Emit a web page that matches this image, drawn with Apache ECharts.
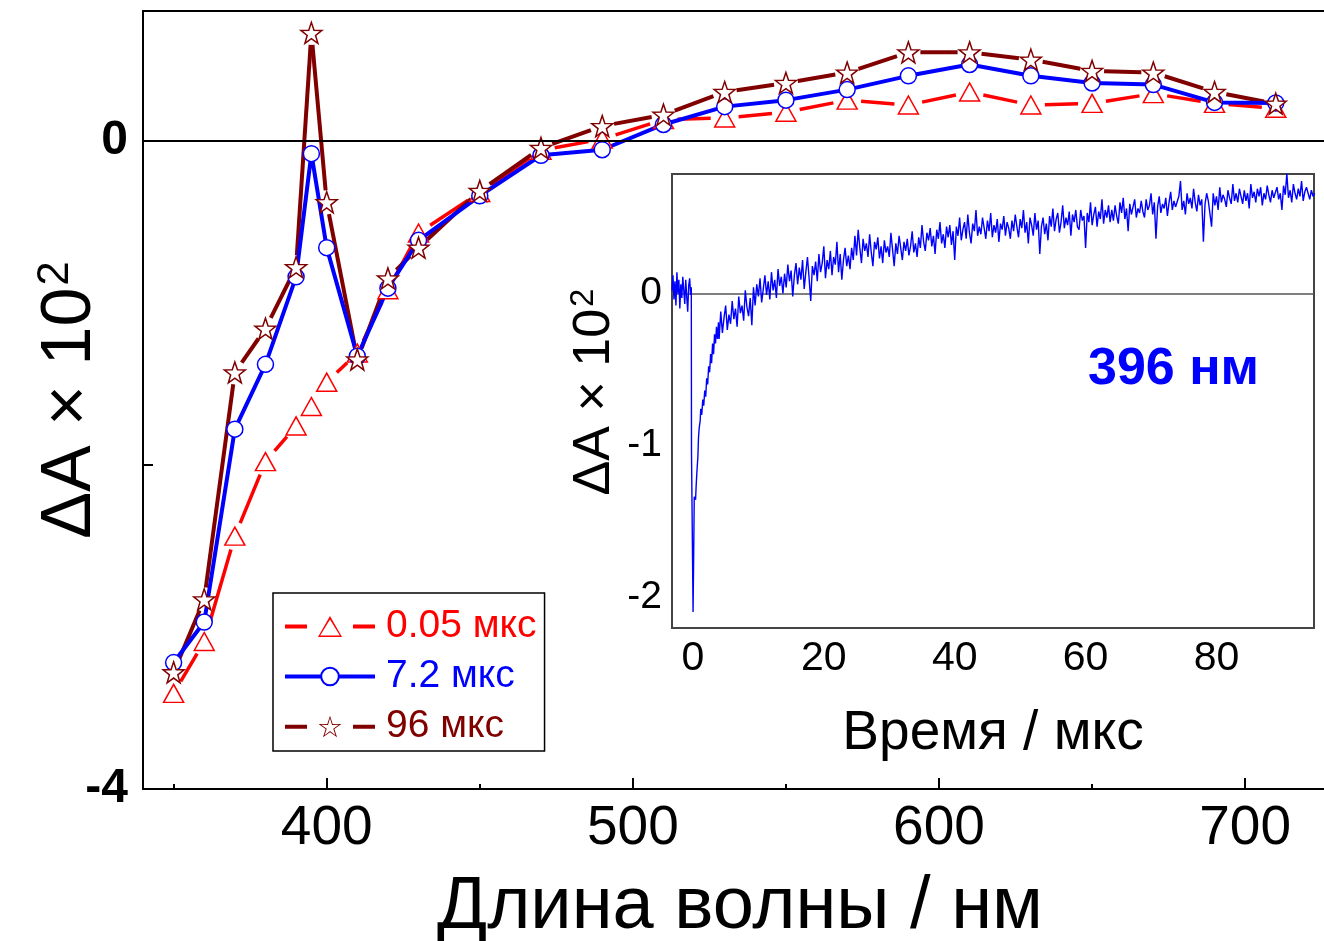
<!DOCTYPE html>
<html>
<head>
<meta charset="utf-8">
<title>ΔA spectra</title>
<script src="https://cdn.jsdelivr.net/npm/echarts@6/dist/echarts.min.js"></script>
<style>
  html, body { margin: 0; padding: 0; background: #fff; }
  #chart { width: 1324px; height: 941px; }
</style>
</head>
<body>
<div id="chart"></div>
<script>
// Transient absorption spectra (ΔA × 10²) at three delays
const wavelengths = [350, 360, 370, 380, 390, 395, 400, 410, 420, 430, 450, 470, 490, 510, 530, 550, 570, 590, 610, 630, 650, 670, 690, 710];
const dA_005 = [-3.41, -3.09, -2.44, -1.98, -1.76, -1.64, -1.49, -1.31, -0.92, -0.57, -0.32, -0.06, 0.01, 0.13, 0.14, 0.175, 0.25, 0.22, 0.30, 0.22, 0.23, 0.29, 0.23, 0.20];
const dA_72  = [-3.22, -2.97, -1.78, -1.38, -0.84, -0.08, -0.66, -1.33, -0.91, -0.615, -0.34, -0.09, -0.056, 0.10, 0.21, 0.25, 0.315, 0.40, 0.47, 0.40, 0.356, 0.346, 0.236, 0.233];
const dA_96  = [-3.28, -2.83, -1.43, -1.16, -0.78, 0.665, -0.38, -1.35, -0.85, -0.66, -0.31, -0.045, 0.09, 0.16, 0.30, 0.356, 0.42, 0.545, 0.545, 0.50, 0.43, 0.42, 0.30, 0.228];
const seriesNames = ['0.05 мкс', '7.2 мкс', '96 мкс'];
const seriesColors = ['#ff0000', '#0000ff', '#800000'];

// Kinetic trace at 396 nm: baseline and fast part around the pulse as [time, ΔA] pairs
const kineticEarly = [
  [-3.2, 0.02], [-3.05, 0.12], [-2.9, -0.04], [-2.75, 0.08], [-2.6, -0.08], [-2.45, 0.14], [-2.3, 0.00],
  [-2.15, 0.09], [-2.0, -0.10], [-1.85, 0.06], [-1.7, -0.03], [-1.55, 0.11], [-1.4, 0.02], [-1.25, -0.07],
  [-1.1, 0.09], [-0.95, -0.02], [-0.8, -0.12], [-0.65, 0.05], [-0.5, 0.10], [-0.35, -0.01], [-0.25, 0.04],
  [-0.22, -1.05], [0.02, -2.10], [0.1, -1.78], [0.2, -1.34], [0.4, -1.36], [0.5, -1.26], [0.6, -1.18],
  [0.75, -1.08], [0.85, -0.95], [0.95, -0.89], [1.1, -0.84], [1.2, -0.76], [1.35, -0.80], [1.5, -0.70],
  [1.65, -0.74], [1.8, -0.64], [1.95, -0.68], [2.1, -0.56], [2.25, -0.60], [2.4, -0.48], [2.55, -0.52],
  [2.7, -0.40], [2.85, -0.46], [3.0, -0.33], [3.15, -0.40], [3.3, -0.27], [3.45, -0.33], [3.6, -0.22],
  [3.75, -0.30], [3.9, -0.19]
];
// ...and the slow part, recorded every 0.25 µs from 4 µs
const kineticStart = 4.0;
const kineticStep = 0.25;
const kineticValues = [
  -0.30, -0.12, -0.26, -0.16, -0.08, -0.24, -0.14, -0.20, -0.05, -0.17, -0.10, -0.22, -0.02, -0.13, -0.08, -0.18, 0.02, -0.09, -0.15, -0.03,
  -0.21, 0.04, -0.08, 0.06, -0.02, 0.10, -0.06, 0.03, 0.12, -0.01, 0.08, -0.04, 0.14, 0.02, 0.09, -0.03, 0.16, 0.05, 0.11, 0.00,
  0.13, 0.04, 0.19, 0.08, 0.15, -0.02, 0.12, 0.20, 0.06, 0.17, 0.09, 0.22, 0.03, 0.14, 0.24, 0.10, -0.05, 0.18, 0.12, 0.21,
  0.08, 0.26, 0.14, 0.20, 0.31, 0.10, 0.22, 0.16, 0.28, 0.12, 0.24, 0.19, 0.34, 0.14, 0.26, 0.09, 0.22, 0.30, 0.18, 0.25,
  0.16, 0.30, 0.22, 0.38, 0.25, 0.42, 0.30, 0.20, 0.36, 0.28, 0.33, 0.24, 0.39, 0.27, 0.18, 0.34, 0.29, 0.37, 0.23, 0.31,
  0.20, 0.35, 0.27, 0.31, 0.24, 0.40, 0.29, 0.18, 0.33, 0.26, 0.38, 0.30, 0.22, 0.34, 0.28, 0.36, 0.25, 0.31, 0.41, 0.27,
  0.33, 0.24, 0.37, 0.30, 0.45, 0.34, 0.28, 0.40, 0.35, 0.43, 0.31, 0.38, 0.26, 0.42, 0.36, 0.47, 0.33, 0.39, 0.30, 0.44,
  0.37, 0.45, 0.32, 0.41, 0.22, 0.44, 0.38, 0.50, 0.35, 0.42, 0.47, 0.36, 0.52, 0.40, 0.33, 0.46, 0.41, 0.55, 0.38, 0.44,
  0.39, 0.50, 0.43, 0.36, 0.48, 0.41, 0.53, 0.37, 0.45, 0.40, 0.49, 0.34, 0.46, 0.42, 0.51, 0.38, 0.47, 0.43, 0.36, 0.48,
  0.41, 0.52, 0.44, 0.37, 0.49, 0.43, 0.55, 0.40, 0.47, 0.33, 0.50, 0.45, 0.38, 0.53, 0.42, 0.48, 0.26, 0.44, 0.50, 0.39,
  0.46, 0.35, 0.51, 0.44, 0.56, 0.41, 0.49, 0.53, 0.40, 0.47, 0.58, 0.43, 0.50, 0.45, 0.54, 0.38, 0.52, 0.47, 0.55, 0.44,
  0.42, 0.55, 0.48, 0.51, 0.30, 0.53, 0.47, 0.60, 0.45, 0.52, 0.57, 0.44, 0.54, 0.49, 0.62, 0.46, 0.55, 0.50, 0.58, 0.47,
  0.55, 0.48, 0.58, 0.51, 0.46, 0.60, 0.53, 0.63, 0.49, 0.56, 0.41, 0.59, 0.52, 0.57, 0.62, 0.50, 0.56, 0.53, 0.61, 0.54,
  0.50, 0.62, 0.55, 0.58, 0.66, 0.52, 0.60, 0.36, 0.57, 0.64, 0.53, 0.59, 0.56, 0.63, 0.51, 0.60, 0.67, 0.55, 0.61, 0.57,
  0.58, 0.64, 0.74, 0.55, 0.61, 0.52, 0.66, 0.59, 0.63, 0.56, 0.69, 0.60, 0.54, 0.65, 0.58, 0.62, 0.34, 0.59, 0.66, 0.61,
  0.61, 0.44, 0.66, 0.58, 0.64, 0.55, 0.70, 0.60, 0.65, 0.62, 0.57, 0.68, 0.63, 0.59, 0.72, 0.61, 0.66, 0.60, 0.69, 0.64,
  0.59, 0.68, 0.61, 0.66, 0.56, 0.72, 0.63, 0.67, 0.60, 0.69, 0.64, 0.70, 0.58, 0.66, 0.62, 0.71, 0.65, 0.60, 0.68, 0.63,
  0.64, 0.70, 0.62, 0.66, 0.55, 0.71, 0.65, 0.79, 0.63, 0.68, 0.60, 0.72, 0.66, 0.62, 0.69, 0.64, 0.74, 0.61, 0.67, 0.70,
  0.66, 0.62, 0.68, 0.64, 0.66
];

// Tick positions and labels
const mainXMajor = [400, 500, 600, 700];
const mainXMinor = [350, 450, 550, 650];
const mainYTicks = [-4, -2, 0];
const mainYLabels = [-4, 0];
const insetXMajor = [0, 20, 40, 60, 80];
const insetXMinor = [10, 30, 50, 70, 90];
const insetYMajor = [-2, -1, 0];
const insetYMinor = [-1.5, -0.5, 0.5];

const FONT = '"Liberation Sans", Arial, Helvetica, sans-serif';
const STAR = 'path://M50,0L61.8,33.8L97.6,34.5L69,56.2L79.4,90.5L50,70L20.6,90.5L31,56.2L2.4,34.5L38.2,33.8Z';
// Legend icons: line with a gap around a hollow symbol (outer outline minus reversed inner outline)
const LEGEND_TRIANGLE = 'path://M0,8.5H22V12.5H0Z M68,8.5H90V12.5H68Z M45,0L57,21L33,21Z M45,3.6L35.2,19.4L54.8,19.4Z';
const LEGEND_STAR = 'path://M0,9H22V13H0Z M68,9H90V13H68Z ' +
  'M45,0L47.7,8.28L56.41,8.29L49.37,13.42L52.05,21.71L45,16.6L37.95,21.71L40.63,13.42L33.59,8.29L42.3,8.28Z ' +
  'M45,2.7L43,9.25L36.15,9.13L41.77,13.05L39.53,19.52L45,15.4L50.47,19.52L48.23,13.05L53.85,9.13L47,9.25Z';

const pairs = ys => wavelengths.map((w, i) => [w, ys[i]]);
const kinetic = kineticEarly.concat(kineticValues.map((v, i) => [kineticStart + i * kineticStep, v]));

const chart = echarts.init(document.getElementById('chart'), null, { renderer: 'canvas' });

const hiddenAxisParts = {
  axisLine: { show: false, onZero: false },
  axisLabel: { show: false },
  splitLine: { show: false }
};

// Markers of a spectrum (line drawn separately when it needs gaps at the markers)
function spectrum(name, ys, color, symbol, size, width, hideLine) {
  return {
    name: name,
    type: 'line',
    xAxisIndex: 0,
    yAxisIndex: 0,
    data: pairs(ys),
    symbol: symbol,
    symbolSize: size,
    showAllSymbol: true,
    lineStyle: { color: color, width: width, opacity: hideLine ? 0 : 1 },
    itemStyle: { color: '#ffffff', borderColor: color, borderWidth: 1.5 },
    emphasis: { disabled: true },
    z: 3,
    animation: false
  };
}

// Connecting segments that stop short of each marker
function gappedLine(ys, color, width, gap) {
  const segs = [];
  for (let i = 0; i < wavelengths.length - 1; i++) {
    segs.push([wavelengths[i], ys[i], wavelengths[i + 1], ys[i + 1]]);
  }
  return {
    type: 'custom',
    xAxisIndex: 0,
    yAxisIndex: 0,
    data: segs,
    encode: { x: [0, 2], y: [1, 3] },
    silent: true,
    z: 3,
    animation: false,
    renderItem: function (params, api) {
      const a = api.coord([api.value(0), api.value(1)]);
      const b = api.coord([api.value(2), api.value(3)]);
      const dx = b[0] - a[0], dy = b[1] - a[1];
      const len = Math.sqrt(dx * dx + dy * dy);
      if (len <= 2 * gap + 1) return null;
      const ux = dx / len, uy = dy / len;
      return {
        type: 'line',
        shape: { x1: a[0] + ux * gap, y1: a[1] + uy * gap, x2: b[0] - ux * gap, y2: b[1] - uy * gap },
        style: { stroke: color, lineWidth: width, lineCap: 'butt' }
      };
    }
  };
}

const option = {
  backgroundColor: '#ffffff',
  animation: false,
  textStyle: { fontFamily: FONT },
  grid: [
    { left: 143, top: 11, right: -13, bottom: 152, show: true, borderColor: '#000', borderWidth: 2, backgroundColor: 'transparent', outerBoundsMode: 'none', containLabel: false },
    { left: 672, top: 174, right: 10, bottom: 313, show: true, borderColor: '#444', borderWidth: 2, backgroundColor: '#ffffff', outerBoundsMode: 'none', containLabel: false, z: 5 }
  ],
  xAxis: [
    {
      type: 'value', gridIndex: 0, position: 'bottom', min: 340, max: 730,
      name: 'Длина волны / нм', nameLocation: 'middle', nameGap: 82,
      nameTextStyle: { fontSize: 74, color: '#000', fontFamily: FONT },
      axisLine: { show: true, onZero: false, lineStyle: { color: '#000', width: 2 } },
      axisTick: { show: true, inside: true, length: 11, customValues: mainXMajor, lineStyle: { color: '#000', width: 2 } },
      axisLabel: { show: true, customValues: mainXMajor, fontSize: 55, color: '#000', margin: 12, fontFamily: FONT },
      splitLine: { show: false }
    },
    Object.assign({
      type: 'value', gridIndex: 0, position: 'bottom', min: 340, max: 730,
      axisTick: { show: true, inside: true, length: 5, customValues: mainXMinor, lineStyle: { color: '#000', width: 2 } }
    }, hiddenAxisParts),
    {
      type: 'value', gridIndex: 1, position: 'bottom', min: -3.2, max: 94.9,
      name: 'Время / мкс', nameLocation: 'middle', nameGap: 78,
      nameTextStyle: { fontSize: 55, color: '#000', fontFamily: FONT },
      axisLine: { show: true, onZero: false, lineStyle: { color: '#444', width: 2 } },
      axisTick: { show: true, inside: true, length: 8, customValues: insetXMajor, lineStyle: { color: '#444', width: 1.5 } },
      axisLabel: { show: true, customValues: insetXMajor, fontSize: 41, color: '#000', margin: 10, fontFamily: FONT },
      splitLine: { show: false }
    },
    Object.assign({
      type: 'value', gridIndex: 1, position: 'bottom', min: -3.2, max: 94.9,
      axisTick: { show: true, inside: true, length: 4, customValues: insetXMinor, lineStyle: { color: '#444', width: 1.5 } }
    }, hiddenAxisParts)
  ],
  yAxis: [
    {
      type: 'value', gridIndex: 0, position: 'left', min: -4, max: 0.8,
      name: '{m|ΔA × 10}{s|2}', nameLocation: 'middle', nameRotate: 90, nameGap: 35, nameMoveOverlap: false,
      nameTextStyle: {
        color: '#000', fontFamily: FONT,
        rich: {
          m: { fontSize: 70, color: '#000', fontFamily: FONT },
          s: { fontSize: 44, color: '#000', fontFamily: FONT, padding: [0, 0, 30, 2] }
        }
      },
      axisLine: { show: true, onZero: false, lineStyle: { color: '#000', width: 2 } },
      axisTick: { show: true, inside: true, length: 10, customValues: mainYTicks, lineStyle: { color: '#000', width: 2 } },
      axisLabel: { show: true, customValues: mainYLabels, fontSize: 48, fontWeight: 'bold', color: '#000', margin: 15, fontFamily: FONT },
      splitLine: { show: false }
    },
    {
      type: 'value', gridIndex: 1, position: 'left', min: -2.205, max: 0.787,
      name: '{m|ΔA × 10}{s|2}', nameLocation: 'middle', nameRotate: 90, nameGap: 50, nameMoveOverlap: false,
      nameTextStyle: {
        color: '#000', fontFamily: FONT, padding: [0, 0, 0, 18],
        rich: {
          m: { fontSize: 52, color: '#000', fontFamily: FONT },
          s: { fontSize: 33, color: '#000', fontFamily: FONT, padding: [0, 0, 22, 2] }
        }
      },
      axisLine: { show: true, onZero: false, lineStyle: { color: '#444', width: 2 } },
      axisTick: { show: true, inside: true, length: 9, customValues: insetYMajor, lineStyle: { color: '#444', width: 1.5 } },
      axisLabel: { show: true, customValues: insetYMajor, fontSize: 39, color: '#000', margin: 10, fontFamily: FONT },
      splitLine: { show: false }
    },
    Object.assign({
      type: 'value', gridIndex: 1, position: 'left', min: -2.205, max: 0.787,
      axisTick: { show: true, inside: true, length: 5, customValues: insetYMinor, lineStyle: { color: '#444', width: 1.5 } }
    }, hiddenAxisParts)
  ],
  legend: {
    show: true,
    orient: 'vertical',
    left: 273,
    top: 593,
    padding: [14, 8, 5, 10],
    itemGap: 11,
    itemWidth: 90,
    itemHeight: 22,
    borderColor: '#000',
    borderWidth: 1.5,
    backgroundColor: '#ffffff',
    selectedMode: false,
    textStyle: { fontSize: 39, fontFamily: FONT, padding: [0, 0, 0, 6] },
    data: [
      { name: seriesNames[0], icon: LEGEND_TRIANGLE, itemStyle: { color: seriesColors[0], borderWidth: 0 }, textStyle: { color: seriesColors[0] } },
      { name: seriesNames[1], lineStyle: { width: 4, color: seriesColors[1] }, textStyle: { color: seriesColors[1] } },
      { name: seriesNames[2], icon: LEGEND_STAR, itemStyle: { color: seriesColors[2], borderWidth: 0 }, textStyle: { color: seriesColors[2] } }
    ]
  },
  graphic: [
    {
      type: 'text', left: 1088, top: 344, z: 100,
      style: { text: '396 нм', fill: '#0000ff', font: 'bold 52px ' + FONT }
    }
  ],
  series: [
    gappedLine(dA_005, seriesColors[0], 3.5, 14),
    Object.assign(spectrum(seriesNames[0], dA_005, seriesColors[0], 'triangle', [20, 18], 3.5, true), {
      markLine: {
        silent: true, symbol: ['none', 'none'], label: { show: false },
        lineStyle: { color: '#000', width: 2, type: 'solid' },
        data: [{ yAxis: 0 }], animation: false
      }
    }),
    spectrum(seriesNames[1], dA_72, seriesColors[1], 'circle', 16, 4, false),
    gappedLine(dA_96, seriesColors[2], 4, 12),
    spectrum(seriesNames[2], dA_96, seriesColors[2], STAR, 21, 4, true),
    {
      name: 'kinetic',
      type: 'line',
      xAxisIndex: 2,
      yAxisIndex: 1,
      data: kinetic,
      showSymbol: false,
      symbol: 'none',
      lineStyle: { color: '#0000ff', width: 1.4 },
      emphasis: { disabled: true },
      z: 6,
      markLine: {
        silent: true, symbol: ['none', 'none'], label: { show: false },
        lineStyle: { color: '#555', width: 1.5, type: 'solid' },
        data: [{ yAxis: 0 }], animation: false
      },
      animation: false
    }
  ]
};

chart.setOption(option);
</script>
</body>
</html>
